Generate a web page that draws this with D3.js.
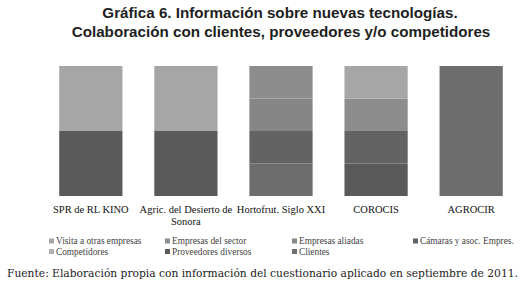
<!DOCTYPE html>
<html>
<head>
<meta charset="utf-8">
<script src="https://cdn.jsdelivr.net/npm/d3@7"></script>
<style>
  body { margin: 0; background: #fff; }
</style>
</head>
<body>
<div id="chart"></div>
<script>
// Companies (x axis)
const companies = ["SPR de RL KINO", "Agric. del Desierto de Sonora", "Hortofrut. Siglo XXI", "COROCIS", "AGROCIR"];
// Collaboration types (legend order)
const series = ["Visita a otras empresas", "Empresas del sector", "Empresas aliadas", "Cámaras y asoc. Empres.",
                "Competidores", "Proveedores diversos", "Clientes"];
// One value per company, per series (shares of each bar)
const visita       = [1, 1, 0, 1, 0];
const sector       = [0, 0, 1, 1, 0];
const aliadas      = [0, 0, 1, 0, 0];
const camaras      = [0, 0, 1, 1, 0];
const competidores = [0, 0, 0, 0, 0];
const proveedores  = [1, 1, 0, 1, 0];
const clientes     = [0, 0, 1, 0, 1];
const seriesValues = [visita, sector, aliadas, camaras, competidores, proveedores, clientes];
const colors = ["#a6a6a6", "#8d8d8d", "#868686", "#636363", "#b0b0b0", "#5a5a5a", "#6d6d6d"];

const W = 523, H = 287;
const svg = d3.select("#chart").append("svg").attr("width", W).attr("height", H);
const serif = "'Liberation Serif', 'Times New Roman', serif";

// title
const title = svg.append("text")
  .attr("text-anchor", "middle")
  .style("font-family", "'Liberation Sans', Arial, sans-serif")
  .style("font-weight", "bold").style("font-size", "15.2px").attr("fill", "#1e1e1e");
title.append("tspan").attr("x", 280).attr("y", 18).text("Gráfica 6. Información sobre nuevas tecnologías.");
title.append("tspan").attr("x", 281).attr("y", 37).text("Colaboración con clientes, proveedores y/o competidores");

// table for stacking
const table = companies.map((c, i) => {
  const row = { company: c };
  series.forEach((s, j) => row[s] = seriesValues[j][i]);
  return row;
});

// first series sits on top, so stack in reverse
const stack = d3.stack().keys(series.slice().reverse()).offset(d3.stackOffsetExpand);
const layers = stack(table);

const x = d3.scaleBand().domain(companies).range([44, 518]).paddingInner(0.335).paddingOuter(0.16);
const y = d3.scaleLinear().domain([0, 1]).range([196, 66]);
const color = d3.scaleOrdinal().domain(series).range(colors);

svg.append("g").selectAll("g").data(layers).join("g")
  .attr("fill", d => color(d.key))
  .selectAll("rect").data(d => d).join("rect")
  .attr("x", d => x(d.data.company))
  .attr("width", x.bandwidth())
  .attr("y", d => y(d[1]))
  .attr("height", d => y(d[0]) - y(d[1]));

// category labels
const labels = svg.append("g")
  .style("font-family", serif)
  .style("font-size", "10.5px").attr("fill", "#111");
const wrapped = {
  "Agric. del Desierto de Sonora": ["Agric. del Desierto de", "Sonora"]
};
companies.forEach(c => {
  const lines = wrapped[c] || [c];
  const t = labels.append("text").attr("text-anchor", "middle");
  lines.forEach((ln, k) => {
    t.append("tspan").attr("x", x(c) + x.bandwidth() / 2).attr("y", 213 + k * 11.5).text(ln);
  });
});

// legend
const legendCols = [49, 165, 292, 413];
const legend = svg.append("g")
  .style("font-family", serif)
  .style("font-size", "9.3px");
series.forEach((s, i) => {
  const col = i % 4, row = Math.floor(i / 4);
  const lx = legendCols[col], ly = 241 + row * 10.5;
  legend.append("rect").attr("x", lx).attr("y", ly - 2.5).attr("width", 5).attr("height", 5).attr("fill", color(s));
  legend.append("text").attr("x", lx + 7).attr("y", ly + 3).attr("fill", "#444").text(s);
});

// source note
svg.append("text")
  .attr("x", 7).attr("y", 277)
  .style("font-family", "'DejaVu Serif', serif")
  .style("font-size", "10.7px").attr("fill", "#222")
  .text("Fuente: Elaboración propia con información del cuestionario aplicado en septiembre de 2011.");
</script>
</body>
</html>
